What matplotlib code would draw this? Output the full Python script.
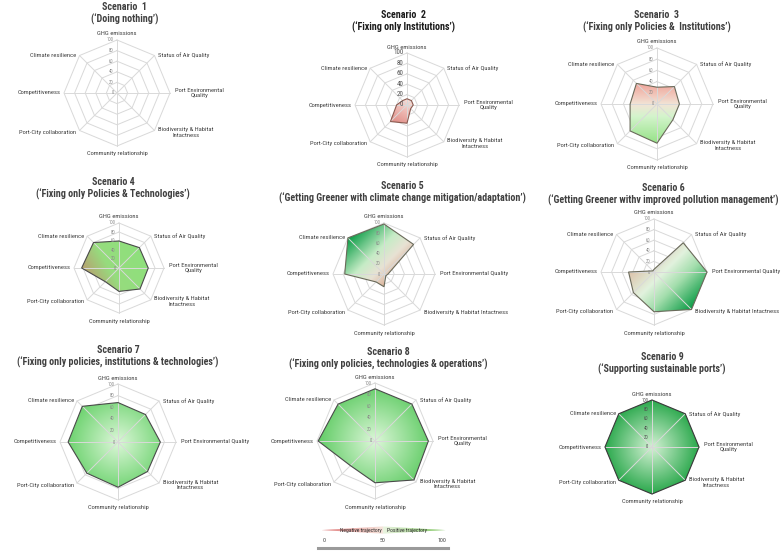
import numpy as np
import matplotlib
matplotlib.use('Agg')
import matplotlib.pyplot as plt
from matplotlib import font_manager as fm
from matplotlib.colors import LinearSegmentedColormap
from matplotlib.patches import Polygon
from matplotlib.textpath import TextPath

# narrow font if there is one, else condensed DejaVu (or plain)
names = {f.name for f in fm.fontManager.ttflist}
narrow = next((n for n in ['Liberation Sans Narrow', 'DejaVu Sans Condensed', 'Roboto Condensed',
                           'Open Sans Condensed', 'Arial Narrow'] if n in names), None)
plt.rcParams['font.family'] = [narrow, 'DejaVu Sans'] if narrow else ['DejaVu Sans']
plt.rcParams['font.stretch'] = 'condensed'

W, H = 782, 554

# axes of every radar, clockwise from the top
categories = ['GHG emissions', 'Status of Air Quality', 'Port Environmental Quality',
              'Biodiversity & Habitat Intactness', 'Community relationship',
              'Port-City collaboration', 'Competitiveness', 'Climate resilience']
ring_values = [0, 20, 40, 60, 80, 100]

# scores per scenario (0-100)
s1 = [0, 0, 0, 0, 0, 0, 0, 0]
s2 = [12, 12, 12, 10, 35, 45, 20, 12]
s3 = [30, 44, 40, 40, 70, 68, 48, 52]
s4 = [60, 64, 65, 66, 52, 43, 83, 80]
s5 = [98, 82, 8, 5, 25, 22, 77, 100]
s6 = [5, 78, 100, 100, 75, 55, 48, 3]
s7 = [68, 67, 73, 72, 78, 76, 86, 87]
s8 = [90, 90, 92, 95, 72, 60, 98, 90]
s9 = [100, 100, 100, 100, 100, 100, 100, 100]
scores = [s1, s2, s3, s4, s5, s6, s7, s8, s9]

titles = ['Scenario  1', 'Scenario  2', 'Scenario  3', 'Scenario 4', 'Scenario 5',
          'Scenario 6', 'Scenario 7', 'Scenario 8', 'Scenario 9']
subtitles = ['(\u2018Doing nothing\u2019)',
             '(\u2018Fixing only Institutions\u2019)',
             '(\u2018Fixing only Policies &  Institutions\u2019)',
             '(\u2018Fixing only Policies & Technologies\u2019)',
             '(\u2018Getting Greener with climate change mitigation/adaptation\u2019)',
             '(\u2018Getting Greener withv improved pollution management\u2019)',
             '(\u2018Fixing only policies, institutions & technologies\u2019)',
             '(\u2018Fixing only policies, technologies & operations\u2019)',
             '(\u2018Supporting sustainable ports\u2019)']

legend_ticks = [0, 50, 100]
legend_names = ['Negative trajectory', 'Positive trajectory']

# layout: chart centre (px), radius of the 100 ring (px), title centre (px)
layout = [
    (117, 93, 53, 125, 7),
    (407, 105, 52, 403, 15),
    (657, 104, 56, 657, 15),
    (119, 268, 45, 113, 182),
    (384, 274, 51, 402, 186),
    (654, 272, 53, 663, 188),
    (118, 442, 58, 118, 350),
    (375, 441, 58, 388, 352),
    (652, 447, 47, 662, 357),
]
wrap_env = [True, True, True, True, False, False, False, True, True]
wrap_bio = [True, True, True, True, False, False, True, True, True]

# gradient fill of each polygon
fills = [
    None,
    ('lin', (-0.5, -1), ['#f9ded8', '#e08c86']),
    ('lin', (0, -1), [(0, '#f0a49a'), (0.35, '#f2e4d6'), (0.55, '#d4f4cc'), (1, '#96e288')]),
    ('lin', (-1, -0.6), [(0, '#8ee07c'), (0.6, '#96dc7e'), (1, '#b8a070')]),
    ('lin', (1, -1), [(0, '#0a9c46'), (0.5, '#c6ecc6'), (0.75, '#e8e2d4'), (1, '#dcb49c')]),
    ('lin', (1, -1), [(0, '#dcc2aa'), (0.35, '#e2f2de'), (0.6, '#a4dead'), (1, '#0c9c46')]),
    ('rad', None, ['#dcf7d8', '#6cd26e']),
    ('rad', None, ['#dcf7d8', '#62cc66']),
    ('rad', None, ['#d4f2d4', '#2aa84c']),
]
edge_cols = [None, '#8a5a50', '#6a6a5a', '#4a4a4a', '#6a6a5a', '#6a6a5a',
             '#4a4a4a', '#4a4a4a', '#3a3a3a']


def text_px(s, size, weight='normal'):
    fp = fm.FontProperties(size=size, weight=weight)
    return TextPath((0, 0), s, prop=fp).get_extents().width * 100 / 72


# font sizes fitted to the widths seen in the reference
title_fs = min(7.2, 7 * 252 / text_px(subtitles[4], 7, 'bold'))
label_fs = min(4.8, 4.4 * 45 / text_px('Climate resilience', 4.4))
legend_fs = min(4.2, 3.8 * 42 / text_px(legend_names[0], 3.8))
tick_scale = label_fs / 4.4

fig = plt.figure(figsize=(W / 100, H / 100), dpi=100)
fig.patch.set_facecolor('white')

ang = np.pi / 2 - np.arange(8) * np.pi / 4
L = 230  # half size of each radar axes, in data units

gx = np.linspace(-100, 100, 300)
GX, GY = np.meshgrid(gx, gx)

for k in range(9):
    cx, cy, R, tx, ty = layout[k]
    hs = L / 100 * R
    ax = fig.add_axes([(cx - hs) / W, (H - cy - hs) / H, 2 * hs / W, 2 * hs / H])
    ax.axis('off')
    u = 100 / R  # data units per pixel

    # octagon rings and spokes
    for rv in ring_values[1:]:
        ax.plot(np.append(rv * np.cos(ang), rv * np.cos(ang[0])),
                np.append(rv * np.sin(ang), rv * np.sin(ang[0])),
                color='#d9d9d9', lw=0.7, zorder=1)
    for a in ang:
        ax.plot([0, 100 * np.cos(a)], [0, 100 * np.sin(a)], color='#d9d9d9', lw=0.7, zorder=3)

    vals = np.array(scores[k], dtype=float)
    if vals.max() > 0 and fills[k] is not None:
        xs = vals * np.cos(ang)
        ys = vals * np.sin(ang)
        poly = Polygon(np.column_stack([xs, ys]), closed=True, facecolor='none',
                       edgecolor=edge_cols[k], lw=0.8, zorder=4)
        ax.add_patch(poly)
        kind, d, cols = fills[k]
        cmap = LinearSegmentedColormap.from_list('f%d' % k, cols)
        if kind == 'lin':
            p = GX * d[0] + GY * d[1]
            pv = xs * d[0] + ys * d[1]
            t = (p - pv.min()) / (pv.max() - pv.min())
        else:
            t = np.hypot(GX, GY) / vals.max()
        im = ax.imshow(cmap(np.clip(t, 0, 1)), extent=(-100, 100, -100, 100),
                       origin='lower', interpolation='bilinear', zorder=2)
        im.set_clip_path(poly)

    # ring value labels along the top spoke
    tfs = 4.8 * tick_scale if k == 1 else 3.2 * tick_scale
    tcol = '#505050' if k in (1, 8) else '#8a8a8a'
    for rv in ring_values:
        ax.text(-3.5 * u, rv, str(rv), ha='right', va='center', fontsize=tfs, color=tcol, zorder=5)

    # category labels
    labs = list(categories)
    if wrap_env[k]:
        labs[2] = 'Port Environmental\nQuality'
    if wrap_bio[k]:
        labs[3] = 'Biodiversity & Habitat\nIntactness'
    lkw = dict(fontsize=label_fs, color='#404040', multialignment='center', zorder=5)
    ax.text(0, 100 + 6 * u, labs[0], ha='center', va='center', **lkw)
    ax.text(0, -100 - 8 * u, labs[4], ha='center', va='center', **lkw)
    for i in (1, 2, 3):
        dx = 5 if i == 2 else 3.5
        dy = -2 if i == 3 else 0
        ax.text(100 * np.cos(ang[i]) + dx * u, 100 * np.sin(ang[i]) + dy * u, labs[i],
                ha='left', va='center', **lkw)
    for i in (5, 6, 7):
        dy = -2 if i == 5 else 0
        ax.text(100 * np.cos(ang[i]) - 3 * u, 100 * np.sin(ang[i]) + dy * u, labs[i],
                ha='right', va='center', **lkw)

    ax.set_xlim(-L, L)
    ax.set_ylim(-L, L)

    tc = '#1a1a1a' if k == 1 else '#404040'
    fig.text(tx / W, 1 - ty / H, titles[k], ha='center', va='center',
             fontsize=title_fs, fontweight='bold', color=tc)
    fig.text(tx / W, 1 - (ty + 12) / H, subtitles[k], ha='center', va='center',
             fontsize=title_fs, fontweight='bold', color=tc)

# legend strip at the bottom
lx0, lx1 = 318, 448
lax = fig.add_axes([lx0 / W, (H - 548) / H, (lx1 - lx0) / W, 26 / H])
ppu = (442 - 324) / 100
for s in ('top', 'left', 'right'):
    lax.spines[s].set_visible(False)
lax.spines['bottom'].set_color('#9a9a9a')
lax.spines['bottom'].set_linewidth(2.2)
lax.set_yticks([])
lax.set_xticks(legend_ticks)
lax.set_xticklabels([str(v) for v in legend_ticks])
lax.tick_params(axis='x', length=0, pad=-7, labelsize=4.2, labelcolor='#404040')
lax.patch.set_alpha(0)

yc, hh = 0.69, 0.14
neg = Polygon([(-2, yc), (50, yc + hh), (50, yc - hh)], closed=True, fc='none', ec='none')
pos = Polygon([(50, yc + hh), (50, yc - hh), (103, yc)], closed=True, fc='none', ec='none')
lax.add_patch(neg)
lax.add_patch(pos)
lg = np.linspace(0, 1, 200)[None, :]
im1 = lax.imshow(LinearSegmentedColormap.from_list('n', ['#e07a7a', '#f6e6de'])(lg),
                 extent=(-2, 50, yc - hh, yc + hh), aspect='auto', interpolation='bilinear')
im1.set_clip_path(neg)
im2 = lax.imshow(LinearSegmentedColormap.from_list('p', ['#eaf4e0', '#7cc35c'])(lg),
                 extent=(50, 103, yc - hh, yc + hh), aspect='auto', interpolation='bilinear')
im2.set_clip_path(pos)
lax.set_xlim((lx0 - 324) / ppu, (lx1 - 324) / ppu)
lax.set_ylim(0, 1)
lax.text((361 - 324) / ppu, yc, legend_names[0], ha='center', va='center', fontsize=legend_fs,
         color='#303030', zorder=5)
lax.text((407 - 324) / ppu, yc, legend_names[1], ha='center', va='center', fontsize=legend_fs,
         color='#303030', zorder=5)

fig.savefig('out.png', dpi=100)
